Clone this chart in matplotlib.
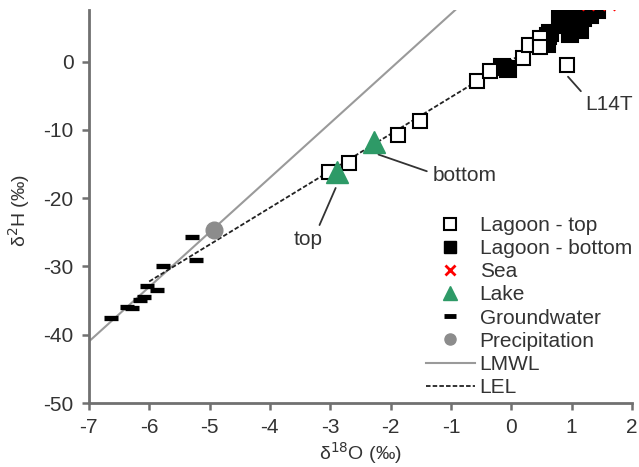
import matplotlib
matplotlib.use("Agg")
import matplotlib.pyplot as plt
from matplotlib.lines import Line2D
import numpy as np

plt.rcParams['font.family'] = ['Liberation Sans', 'DejaVu Sans']

# ---- data ----
lagoon_top_x = [0.92, -0.57, -0.36, -1.52, -1.87, -2.69, -3.02, 0.19, 0.29, 0.48, 0.48]
lagoon_top_y = [-0.5, -2.9, -1.3, -8.75, -10.7, -14.9, -16.1, 0.5, 2.4, 3.4, 2.1]

lagoon_bot_x = [-0.15, -0.05, 0.6, 0.61, 0.65, 0.81, 0.93, 0.98, 1.03, 1.09, 1.14, 1.19, 1.31, 1.42]
lagoon_bot_y = [-0.8, -1.1, 2.6, 3.7, 4.2, 6.2, 5.4, 4.0, 5.4, 6.5, 4.7, 6.4, 6.9, 7.6]

sea_x = [1.27, 1.62]
sea_y = [8.5, 8.5]

lake_x = [-2.89, -2.27]
lake_y = [-16.1, -11.7]

gw_x = [-5.29, -5.23, -5.77, -6.03, -5.87, -6.09, -6.15, -6.37, -6.29, -6.63]
gw_y = [-25.7, -29.0, -30.0, -32.9, -33.5, -34.4, -34.9, -35.9, -36.1, -37.6]

precip_x = [-4.93]
precip_y = [-24.6]

lmwl_slope, lmwl_icpt = 8.0, 15.0
lel_slope, lel_icpt = 5.4, 0.2
lmwl_x = [-7.0, -0.9]
lel_x = [-6.0, 1.4]

xticks = [-7, -6, -5, -4, -3, -2, -1, 0, 1, 2]
yticks = [-50, -40, -30, -20, -10, 0]

# ---- figure ----
fig = plt.figure(figsize=(6.39, 4.67), dpi=100)
ax = fig.add_axes([0.139, 0.137, 0.850, 0.842])

txt = '#333333'
spine_c = '#707070'
fs = 15

lx = np.array(lmwl_x)
ax.plot(lx, lmwl_slope * lx + lmwl_icpt, color='#9a9a9a', lw=1.5, zorder=1)
ex = np.array(lel_x)
ax.plot(ex, lel_slope * ex + lel_icpt, color='#222222', lw=1.3, ls=(0, (2.5, 1.2)), zorder=1)

ax.plot(gw_x, gw_y, ls='none', marker='_', ms=10.5, mew=3.8, color='black', zorder=3)
ax.plot(precip_x, precip_y, ls='none', marker='o', ms=12, color='#8c8c8c', zorder=3)
ax.plot(lagoon_bot_x, lagoon_bot_y, ls='none', marker='s', ms=11, mfc='black', mec='black', mew=1.5, zorder=4)
ax.plot(lagoon_top_x, lagoon_top_y, ls='none', marker='s', ms=10, mfc='white', mec='black', mew=1.5, zorder=4)
ax.plot(sea_x, sea_y, ls='none', marker='x', ms=8, mew=2, color='red', zorder=5)
ax.plot(lake_x, lake_y, ls='none', marker='^', ms=16, color='#2e9a67', zorder=5)

# annotations
ax.annotate('L14T', xy=(0.94, -2.2), xytext=(1.23, -6.2), fontsize=fs, color=txt,
            ha='left', va='center',
            arrowprops=dict(arrowstyle='-', color='#333333', lw=1.3, shrinkA=2, shrinkB=0,
                            relpos=(0.0, 0.9)))
ax.annotate('bottom', xy=(-2.2, -13.6), xytext=(-1.31, -16.6), fontsize=fs, color=txt,
            ha='left', va='center',
            arrowprops=dict(arrowstyle='-', color='#333333', lw=1.3, shrinkA=2, shrinkB=0,
                            relpos=(0.0, 0.6)))
ax.annotate('top', xy=(-2.91, -18.5), xytext=(-3.36, -26.1), fontsize=fs, color=txt,
            ha='center', va='center',
            arrowprops=dict(arrowstyle='-', color='#333333', lw=1.3, shrinkA=2, shrinkB=0,
                            relpos=(0.8, 1.0)))

ax.set_xlim(-7, 2)
ax.set_ylim(-50, 7.6)
ax.set_xticks(xticks)
ax.set_yticks(yticks)
ax.set_xticklabels([str(t) for t in xticks])
ax.set_yticklabels([str(t) for t in yticks])

for s in ['top', 'right']:
    ax.spines[s].set_visible(False)
for s in ['left', 'bottom']:
    ax.spines[s].set_color(spine_c)
    ax.spines[s].set_linewidth(2)
ax.tick_params(direction='out', length=5, width=1.8, color=spine_c, labelsize=fs,
               labelcolor=txt, pad=6)

ax.set_xlabel('δ$^{18}$O (‰)', fontsize=14, color=txt)
ax.xaxis.set_label_coords(0.5, -0.094)
ax.xaxis.label.set_va('top')
ax.set_ylabel('δ$^{2}$H (‰)', fontsize=14, color=txt)
ax.yaxis.set_label_coords(-0.105, 0.49)

handles = [
    Line2D([], [], ls='none', marker='s', ms=9, mfc='white', mec='black', mew=1.5),
    Line2D([], [], ls='none', marker='s', ms=9, mfc='black', mec='black'),
    Line2D([], [], ls='none', marker='x', ms=7, mew=2, color='red'),
    Line2D([], [], ls='none', marker='^', ms=10, color='#2e9a67'),
    Line2D([], [], ls='none', marker='_', ms=9, mew=3.5, color='black'),
    Line2D([], [], ls='none', marker='o', ms=8, color='#8c8c8c'),
    Line2D([], [], color='#9a9a9a', lw=1.5),
    Line2D([], [], color='#222222', lw=1.3, ls=(0, (2.5, 1.2))),
]
labels = ['Lagoon - top', 'Lagoon - bottom', 'Sea', 'Lake', 'Groundwater',
          'Precipitation', 'LMWL', 'LEL']
leg = ax.legend(handles, labels, loc='upper left', bbox_to_anchor=(0.62, 0.476),
                frameon=False, fontsize=fs, handlelength=2.35, handletextpad=0.25,
                labelspacing=0.2, borderaxespad=0, borderpad=0)
for t in leg.get_texts():
    t.set_color(txt)

fig.savefig('out.png', dpi=100)
